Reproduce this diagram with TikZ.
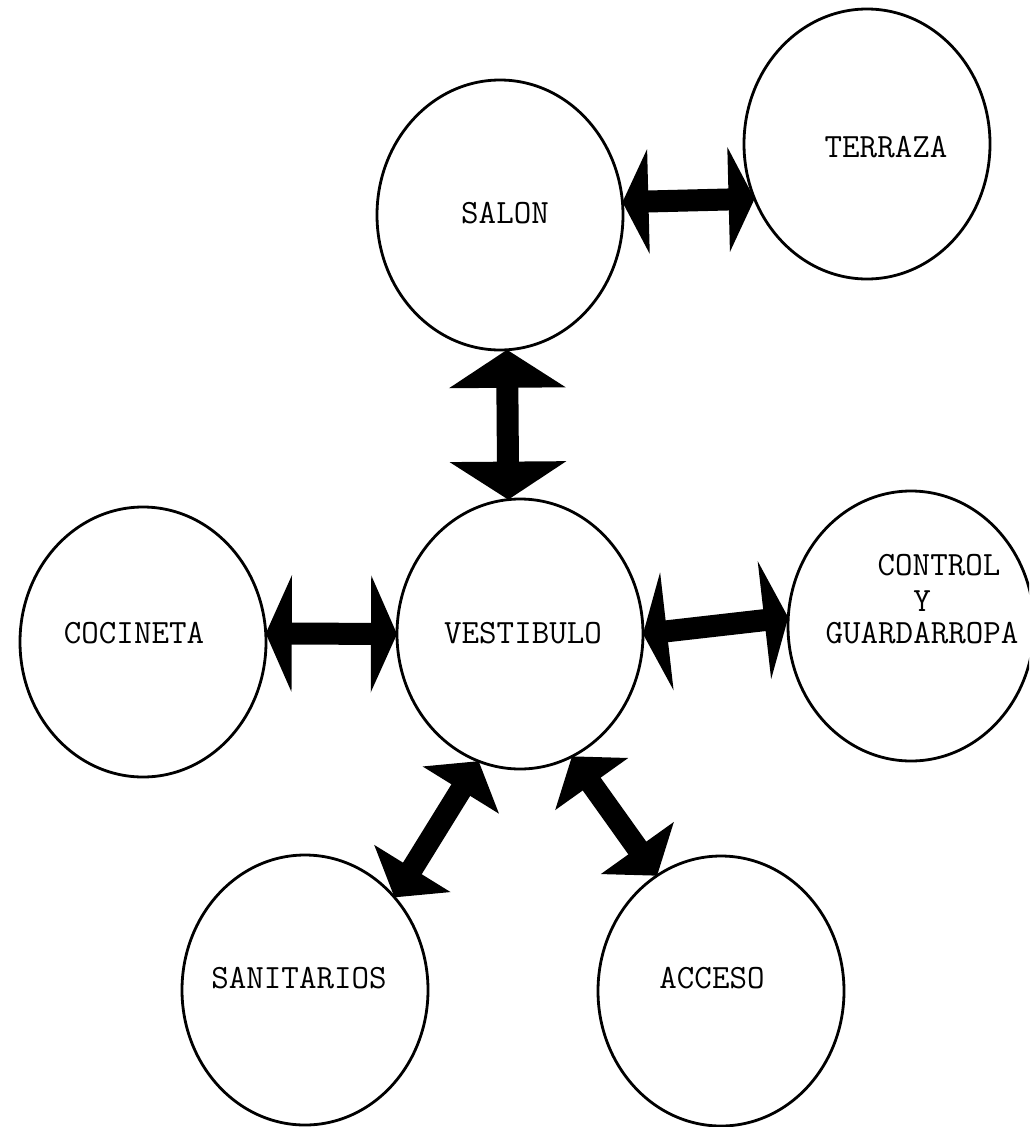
\documentclass[tikz,border=0pt]{standalone}
\usetikzlibrary{arrows.meta,shapes.geometric}
\begin{document}
\begin{tikzpicture}[x=1pt,y=-1pt,
  room/.style={draw, line width=2.8pt, ellipse, minimum width=246pt,
               minimum height=270pt, inner sep=0pt, outer sep=0pt},
  lbl/.style={font=\ttfamily\fontsize{34}{40}\selectfont, inner sep=0pt},
  link/.style 2 args={line width=22pt,
      {Triangle[length=#1,width=#2]}-{Triangle[length=#1,width=#2]}},
]
\clip (0,0) rectangle (1029,1127);
\useasboundingbox (0,0) rectangle (1029,1127);

% rooms
\node[room] (salon)   at (500,215) {};
\node[room] (terraza) at (867,144) {};
\node[room] (vest)    at (520,634) {};
\node[room] (coc)     at (143,642) {};
\node[room] (ctrl)    at (911,626) {};
\node[room] (sani)    at (305,990) {};
\node[room] (acceso)  at (721,991) {};

% room names
\node[lbl] (tsalon) at (505,213) {SALON};
\node[lbl] (tterr)  at (886,147) {TERRAZA};
\node[lbl] (tvest)  at (523,633) {VESTIBULO};
\node[lbl] (tcoc)   at (134,633) {COCINETA};
\node[lbl] (tctrl)  at (939,565) {CONTROL};
\node[lbl] (ty)     at (922,601) {Y};
\node[lbl] (tguard) at (922,633) {GUARDARROPA};
\node[lbl] (tsani)  at (299,978) {SANITARIOS};
\node[lbl] (tacc)   at (712,978) {ACCESO};

% relations
\draw[link={26pt}{104pt}] (salon.6) -- (terraza.206);
\draw[link={38pt}{115pt}] (salon.273.3) -- (vest.95.2);
\draw[link={26pt}{116pt}] (coc.4) -- (vest.west);
\draw[link={24pt}{118pt}] (vest.east) -- (ctrl.176);
\draw[link={34pt}{88pt}] (vest.252) -- (sani.46);
\draw[link={34pt}{88pt}] (vest.293) -- (acceso.119.6);
\end{tikzpicture}
\end{document}
